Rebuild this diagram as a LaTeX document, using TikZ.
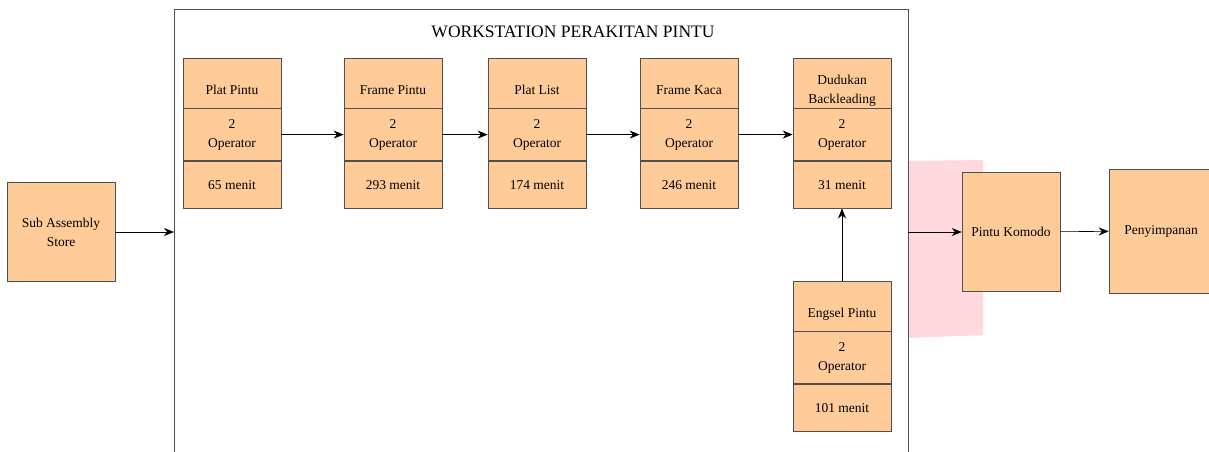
\documentclass[tikz,border=0pt]{standalone}
\usepackage{fontspec}
\setmainfont{Liberation Serif}
\newfontfamily\diagfont{Liberation Serif}
\usetikzlibrary{arrows.meta,positioning}
\definecolor{boxorange}{RGB}{255,204,153}
\definecolor{boxline}{RGB}{80,80,80}
\definecolor{softpink}{RGB}{255,217,221}

\tikzset{
  cell/.style={draw=boxline, semithick, fill=boxorange, minimum width=98pt, inner sep=0pt, align=center,
    font=\diagfont\fontsize{13.5}{19}\selectfont},
  namecell/.style={cell, minimum height=50pt, text height=22pt, text depth=0pt},
  opcell/.style={cell, minimum height=52pt},
  timecell/.style={cell, minimum height=47pt},
  bigbox/.style={draw=boxline, semithick, fill=boxorange, inner sep=0pt, align=center,
    font=\diagfont\fontsize{13.5}{19}\selectfont},
  flow/.style={-{Stealth[length=10pt,width=8pt]}, semithick, black},
}

\begin{document}
\begin{tikzpicture}[x=1pt, y=-1pt]
\useasboundingbox (0,0) rectangle (1209,452);

% pink band behind the output arrow
\fill[softpink] (909,161) -- (983,160) -- (983,335) -- (909,338) -- cycle;

% workstation frame, open at the bottom
\draw[boxline, semithick] (174,452) -- (174,9) -- (908,9) -- (908,452);
\node[font=\diagfont\fontsize{17.5}{20}\selectfont] (title) at (573,32) {WORKSTATION PERAKITAN PINTU};
\coordinate (wsin) at (174,232);
\coordinate (wsout) at (908,232);

% stations
\node[namecell] (platpintu) at (232,83) {Plat Pintu};
\node[opcell] (platpintu-op) [below=0pt of platpintu] {2\\Operator};
\node[timecell] (platpintu-t) [below=0pt of platpintu-op] {65 menit};

\node[namecell] (framepintu) at (393,83) {Frame Pintu};
\node[opcell] (framepintu-op) [below=0pt of framepintu] {2\\Operator};
\node[timecell] (framepintu-t) [below=0pt of framepintu-op] {293 menit};

\node[namecell] (platlist) at (537,83) {Plat List};
\node[opcell] (platlist-op) [below=0pt of platlist] {2\\Operator};
\node[timecell] (platlist-t) [below=0pt of platlist-op] {174 menit};

\node[namecell] (framekaca) at (689,83) {Frame Kaca};
\node[opcell] (framekaca-op) [below=0pt of framekaca] {2\\Operator};
\node[timecell] (framekaca-t) [below=0pt of framekaca-op] {246 menit};

\node[cell, minimum height=50pt, text height=43pt] (dudukan) at (842,83) {Dudukan\\Backleading};
\node[opcell] (dudukan-op) [below=0pt of dudukan] {2\\Operator};
\node[timecell] (dudukan-t) [below=0pt of dudukan-op] {31 menit};

\node[namecell] (engsel) at (842,306) {Engsel Pintu};
\node[opcell] (engsel-op) [below=0pt of engsel] {2\\Operator};
\node[timecell] (engsel-t) [below=0pt of engsel-op] {101 menit};

% outside the workstation
\node[bigbox, minimum width=108pt, minimum height=99pt] (store) at (61,232) {Sub Assembly\\Store};
\node[bigbox, minimum width=98pt, minimum height=119pt] (komodo) at (1011,232) {Pintu Komodo};
\node[bigbox, minimum width=104pt, minimum height=124pt] (simpan) at (1161,231) {Penyimpanan};

% material flow
\draw[flow] (store) -- (wsin);
\draw[flow] (platpintu-op) -- (framepintu-op);
\draw[flow] (framepintu-op) -- (platlist-op);
\draw[flow] (platlist-op) -- (framekaca-op);
\draw[flow] (framekaca-op) -- (dudukan-op);
\draw[flow] (engsel) -- (dudukan-t);
\draw[flow] (wsout) -- (komodo);
\draw[flow] (komodo) -- (simpan);
\end{tikzpicture}
\end{document}
